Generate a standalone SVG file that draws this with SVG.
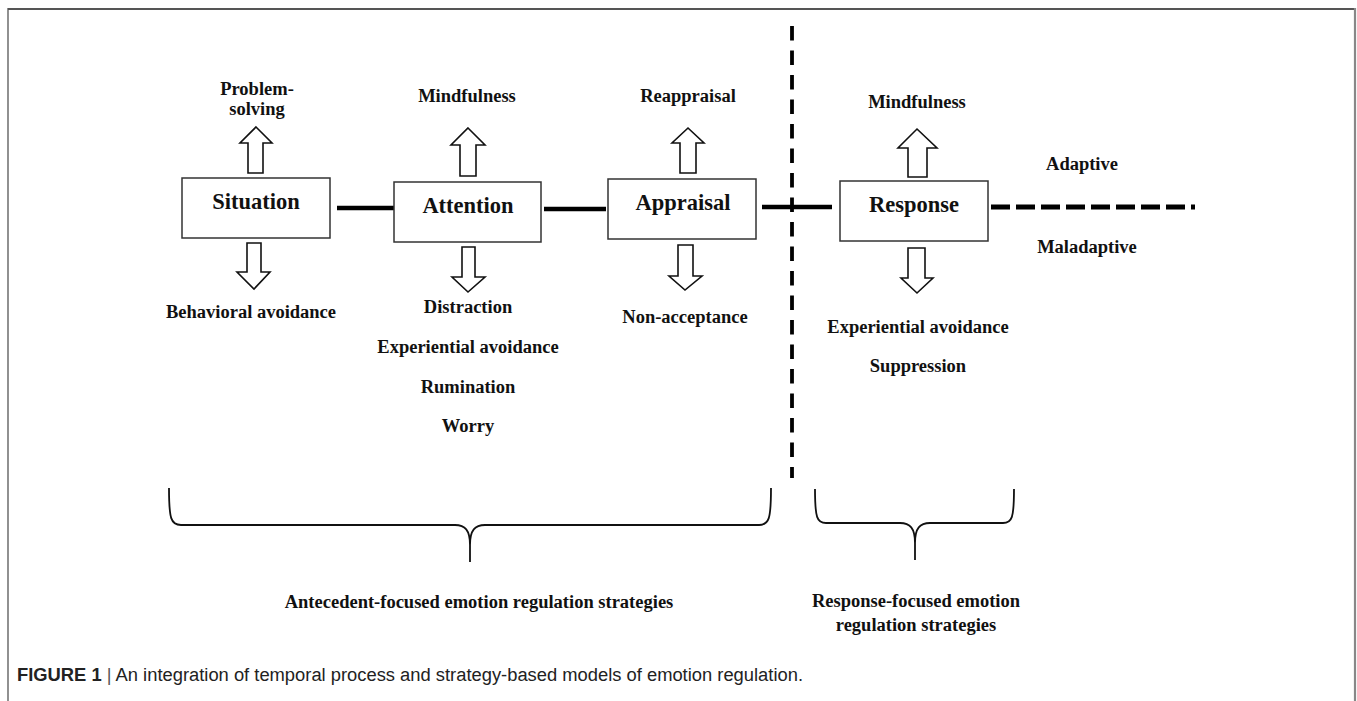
<svg xmlns="http://www.w3.org/2000/svg" width="1357" height="701" viewBox="0 0 1357 701">
<style>
.lbl{font-family:"Liberation Serif","Times New Roman",serif;font-weight:bold;font-size:18.5px;fill:#111;text-anchor:middle}
.box{fill:#fff;stroke:#333;stroke-width:1.5}
.boxt{font-family:"Liberation Serif","Times New Roman",serif;font-weight:bold;font-size:22.5px;fill:#111;text-anchor:middle}
.arr{fill:#fff;stroke:#111;stroke-width:1.6;stroke-linejoin:miter}
.conn{stroke:#000;stroke-width:4.5;fill:none}
.brace{fill:none;stroke:#111;stroke-width:1.8}
</style>
<rect width="1357" height="701" fill="#fff"/>
<g id="frame">
<line x1="8" y1="9" x2="1355" y2="9" stroke="#555" stroke-width="2"/>
<line x1="8" y1="8" x2="8" y2="701" stroke="#555" stroke-width="1.3"/>
<line x1="1355" y1="8" x2="1355" y2="701" stroke="#888" stroke-width="2.2"/>
</g>
<g id="connectors">
<line class="conn" x1="337" y1="208" x2="394" y2="208"/>
<line class="conn" x1="544" y1="209" x2="606" y2="209"/>
<line class="conn" x1="762" y1="207" x2="832" y2="207"/>
<line x1="991" y1="207" x2="1195" y2="207" stroke="#000" stroke-width="5" stroke-dasharray="19 6"/>
<line x1="792" y1="26" x2="792" y2="478" stroke="#000" stroke-width="3.8" stroke-dasharray="14.5 10"/>
</g>
<g id="situation">
<rect class="box" x="182" y="178" width="148" height="60"/>
<text class="boxt" x="256" y="209">Situation</text>
<path class="arr" d="M256,127 L272,143 L263,143 L263,173 L248,173 L248,143 L240,143 Z"/>
<text class="lbl" x="257" y="95">Problem-</text>
<text class="lbl" x="257" y="115">solving</text>
<path class="arr" d="M247,243 L261,243 L261,272 L270,272 L254,289 L237,272 L247,272 Z"/>
<text class="lbl" x="251" y="318">Behavioral avoidance</text>
</g>
<g id="attention">
<rect class="box" x="394" y="182" width="147" height="60"/>
<text class="boxt" x="468" y="213">Attention</text>
<path class="arr" d="M468,128 L485,145 L476,145 L476,176 L460,176 L460,145 L451,145 Z"/>
<text class="lbl" x="467" y="102">Mindfulness</text>
<path class="arr" d="M462,247 L475,247 L475,277 L485,277 L468,292 L452,277 L462,277 Z"/>
<text class="lbl" x="468" y="313">Distraction</text>
<text class="lbl" x="468" y="353">Experiential avoidance</text>
<text class="lbl" x="468" y="393">Rumination</text>
<text class="lbl" x="468" y="432">Worry</text>
</g>
<g id="appraisal">
<rect class="box" x="608" y="179" width="148" height="60"/>
<text class="boxt" x="683" y="210">Appraisal</text>
<path class="arr" d="M688,128 L704,143 L696,143 L696,173 L680,173 L680,143 L672,143 Z"/>
<text class="lbl" x="688" y="102">Reappraisal</text>
<path class="arr" d="M678,245 L693,245 L693,276 L702,276 L685,290 L669,276 L678,276 Z"/>
<text class="lbl" x="685" y="323">Non-acceptance</text>
</g>
<g id="response">
<rect class="box" x="840" y="181" width="148" height="60"/>
<text class="boxt" x="914" y="212">Response</text>
<path class="arr" d="M917,129 L937,148 L927,148 L927,177 L908,177 L908,148 L898,148 Z"/>
<text class="lbl" x="917" y="108">Mindfulness</text>
<path class="arr" d="M908,248 L925,248 L925,278 L933,278 L917,293 L901,278 L908,278 Z"/>
<text class="lbl" x="918" y="333">Experiential avoidance</text>
<text class="lbl" x="918" y="372">Suppression</text>
</g>
<g id="adaptive">
<text class="lbl" x="1082" y="170">Adaptive</text>
<text class="lbl" x="1087" y="253">Maladaptive</text>
</g>
<g id="antecedent-brace">
<path class="brace" d="M169,488 C169,519 171,525 181,525 L455,525 C465,525 470,530 470,545 L470,562 M470,545 C470,530 475,525 485,525 L759,525 C769,525 771,519 771,488"/>
<text class="lbl" x="479" y="608">Antecedent-focused emotion regulation strategies</text>
</g>
<g id="response-brace">
<path class="brace" d="M815,489 C815,518 817,523 826,523 L900,523 C910,523 915,528 915,543 L915,560 M915,543 C915,528 920,523 930,523 L1003,523 C1012,523 1014,518 1014,489"/>
<text class="lbl" x="916" y="607">Response-focused emotion</text>
<text class="lbl" x="916" y="631">regulation strategies</text>
</g>
<g id="caption">
<text x="17" y="681" font-family="'Liberation Sans',Arial,sans-serif" font-size="18" fill="#222" textLength="786" lengthAdjust="spacingAndGlyphs"><tspan font-weight="bold">FIGURE 1</tspan><tspan fill="#555"> | </tspan>An integration of temporal process and strategy-based models of emotion regulation.</text>
</g>
</svg>
